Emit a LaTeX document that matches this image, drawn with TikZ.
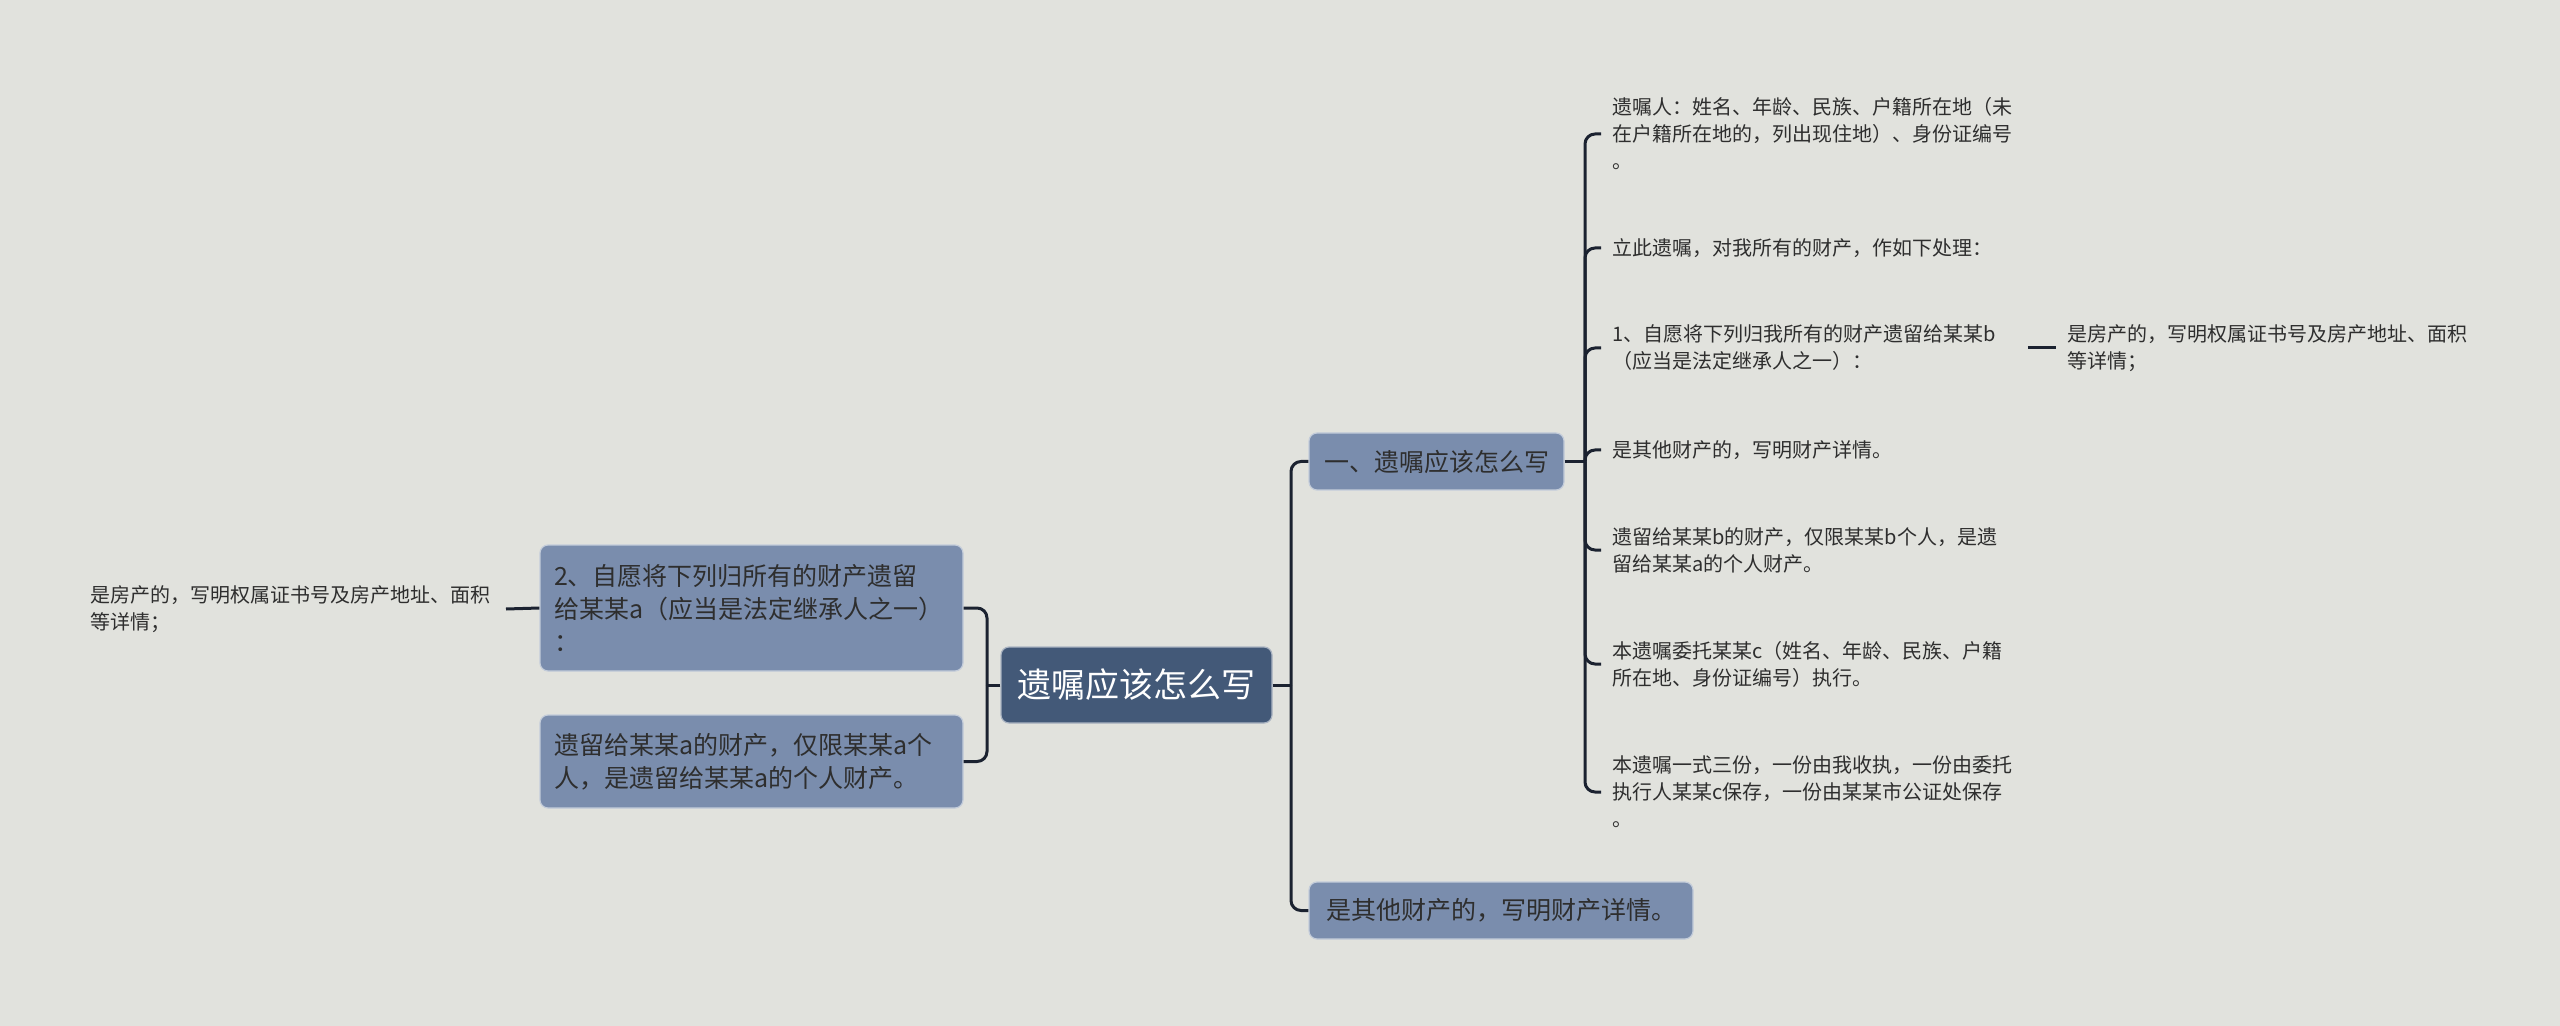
\documentclass[tikz,border=0pt]{standalone}
\usepackage{fontspec}
\setmainfont{Noto Sans CJK SC}
\definecolor{bgcol}{HTML}{E1E2DD}
\definecolor{rootcol}{HTML}{435978}
\definecolor{topiccol}{HTML}{7A8DAD}
\definecolor{linkcol}{HTML}{1B2230}
\definecolor{txtcol}{HTML}{2E2E2E}
\tikzset{
 link/.style={draw=linkcol,line width=1.5pt,rounded corners=5pt},
 rootbox/.style={rectangle,rounded corners=4pt,fill=rootcol,draw=white!55!rootcol,line width=.6pt,text=white,font=\fontsize{17}{20}\selectfont,minimum width=135.5pt,minimum height=38pt,inner sep=0},
 topic/.style={rectangle,rounded corners=4pt,fill=topiccol,draw=white!55!topiccol,line width=.6pt,text=txtcol,font=\fontsize{12.5}{16.5}\selectfont,align=left,inner xsep=7pt,inner ysep=0pt},
 leaf/.style={text=txtcol,font=\fontsize{10}{13.5}\selectfont,align=left,text width=202pt,inner xsep=5.5pt,inner ysep=0pt}
}
\begin{document}
\begin{tikzpicture}[x=0.5pt,y=-0.5pt]
\fill[bgcol] (0,0) rectangle (2560,1026);
\path[use as bounding box] (0,0) rectangle (2560,1026);
% centre
\node[rootbox] (root) at (1136.5,685) {遗嘱应该怎么写};
% left side
\node[topic,text width=197.5pt,minimum height=63pt] (givea) at (751.5,608) {2、自愿将下列归所有的财产遗留\\给某某a（应当是法定继承人之一）\\：};
\node[topic,text width=197.5pt,minimum height=46.5pt] (onlya) at (751.5,761.5) {遗留给某某a的财产，仅限某某a个\\人，是遗留给某某a的个人财产。};
\node[leaf,anchor=east] (housea) at (506,609) {是房产的，写明权属证书号及房产地址、面积\\等详情；};
% right side
\node[topic,minimum width=127.5pt,minimum height=28.5pt] (how) at (1436.5,461.5) {一、遗嘱应该怎么写};
\node[topic,minimum width=192pt,minimum height=28.5pt] (other) at (1501,910.5) {是其他财产的，写明财产详情。};
\node[leaf,anchor=west] (testator) at (1601,134) {遗嘱人：姓名、年龄、民族、户籍所在地（未\\在户籍所在地的，列出现住地）、身份证编号\\。};
\node[leaf,anchor=west] (declare) at (1601,248) {立此遗嘱，对我所有的财产，作如下处理：};
\node[leaf,anchor=west] (giveb) at (1601,348) {1、自愿将下列归我所有的财产遗留给某某b\\（应当是法定继承人之一）：};
\node[leaf,anchor=west] (houseb) at (2056,348) {是房产的，写明权属证书号及房产地址、面积\\等详情；};
\node[leaf,anchor=west] (otherb) at (1601,450) {是其他财产的，写明财产详情。};
\node[leaf,anchor=west] (onlyb) at (1601,550) {遗留给某某b的财产，仅限某某b个人，是遗\\留给某某a的个人财产。};
\node[leaf,anchor=west] (exec) at (1601,664) {本遗嘱委托某某c（姓名、年龄、民族、户籍\\所在地、身份证编号）执行。};
\node[leaf,anchor=west] (copies) at (1601,792) {本遗嘱一式三份，一份由我收执，一份由委托\\执行人某某c保存，一份由某某市公证处保存\\。};
% connectors
\coordinate (lj) at (987,685);
\coordinate (rj) at (1291,685);
\coordinate (hj) at (1585,461.5);
\draw[link] (root.west) -- (lj);
\draw[link] (lj) |- (givea.east);
\draw[link] (lj) |- (onlya.east);
\draw[link] (givea.west) -- (housea.east);
\draw[link] (root.east) -- (rj);
\draw[link] (rj) |- (how.west);
\draw[link] (rj) |- (other.west);
\draw[link] (how.east) -- (hj);
\foreach \n in {testator,declare,giveb,otherb,onlyb,exec,copies}
  \draw[link] (hj) |- (\n.west);
\draw[link] (giveb.east) -- (houseb.west);
\end{tikzpicture}
\end{document}
